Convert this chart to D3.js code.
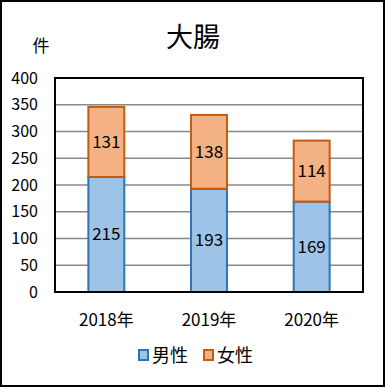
<!DOCTYPE html>
<html>
<head>
<meta charset="utf-8">
<script src="https://cdn.jsdelivr.net/npm/d3@7"></script>
<style>
  body { margin: 0; background: #fff; }
  svg text { font-family: "Noto Sans CJK JP", "Noto Sans", sans-serif; fill: #000; }
</style>
</head>
<body>
<svg id="chart" width="385" height="387"></svg>
<script>
const years = ['2018年', '2019年', '2020年'];
const male = [215, 193, 169];
const female = [131, 138, 114];
const seriesNames = ['男性', '女性'];
const yTicks = [0, 50, 100, 150, 200, 250, 300, 350, 400];

const FILL = ['#9DC3E6', '#F4B183'];
const STROKE = ['#2E75B6', '#C55A11'];

const svg = d3.select('#chart');
const plot = { left: 55, top: 78, right: 363, bottom: 292 };

// outer frame
svg.append('rect')
    .attr('x', 1).attr('y', 1).attr('width', 383).attr('height', 385)
    .attr('fill', '#fff').attr('stroke', '#000').attr('stroke-width', 2);

const x = d3.scaleBand().domain(years).range([plot.left, plot.right]).paddingInner(0.65).paddingOuter(0.325);
const y = d3.scaleLinear().domain([0, 400]).range([plot.bottom, plot.top]);

// gridlines
svg.append('g').selectAll('line').data(yTicks.slice(1, -1)).join('line')
    .attr('x1', plot.left).attr('x2', plot.right)
    .attr('y1', d => y(d)).attr('y2', d => y(d))
    .attr('stroke', '#888').attr('stroke-width', 1.5);

// y tick labels
svg.append('g').selectAll('text').data(yTicks).join('text')
    .attr('x', 38).attr('y', d => y(d)).attr('dy', '0.35em')
    .attr('text-anchor', 'end').attr('font-size', 16)
    .text(d => d);

const stacked = d3.stack().keys([0, 1])(years.map((yr, i) => [male[i], female[i]]));

stacked.forEach((layer, s) => {
    svg.append('g').selectAll('rect').data(layer).join('rect')
        .attr('x', (d, i) => x(years[i]))
        .attr('width', x.bandwidth())
        .attr('y', d => y(d[1]))
        .attr('height', d => y(d[0]) - y(d[1]))
        .attr('fill', FILL[s]).attr('stroke', STROKE[s]).attr('stroke-width', 2);
    svg.append('g').selectAll('text').data(layer).join('text')
        .attr('x', (d, i) => x(years[i]) + x.bandwidth() / 2)
        .attr('y', d => y((d[0] + d[1]) / 2)).attr('dy', '0.35em')
        .attr('text-anchor', 'middle').attr('font-size', 17)
        .text(d => d[1] - d[0]);
});

// plot frame
svg.append('rect')
    .attr('x', plot.left).attr('y', plot.top)
    .attr('width', plot.right - plot.left).attr('height', plot.bottom - plot.top)
    .attr('fill', 'none').attr('stroke', '#000').attr('stroke-width', 2);

// x labels
svg.append('g').selectAll('text').data(years).join('text')
    .attr('x', d => x(d) + x.bandwidth() / 2).attr('y', 320).attr('dy', '0.35em')
    .attr('text-anchor', 'middle').attr('font-size', 17)
    .text(d => d);

// title and unit
svg.append('text').attr('x', 193).attr('y', 38).attr('dy', '0.35em')
    .attr('text-anchor', 'middle').attr('font-size', 27).text('大腸');
svg.append('text').attr('x', 41).attr('y', 46).attr('dy', '0.35em')
    .attr('text-anchor', 'middle').attr('font-size', 17).text('件');

// legend
const legendX = [139, 204];
seriesNames.forEach((name, s) => {
    svg.append('rect')
        .attr('x', legendX[s]).attr('y', 350).attr('width', 9).attr('height', 10)
        .attr('fill', FILL[s]).attr('stroke', STROKE[s]).attr('stroke-width', 2);
    svg.append('text')
        .attr('x', legendX[s] + 13).attr('y', 356).attr('dy', '0.35em')
        .attr('font-size', 18).text(name);
});
</script>
</body>
</html>
